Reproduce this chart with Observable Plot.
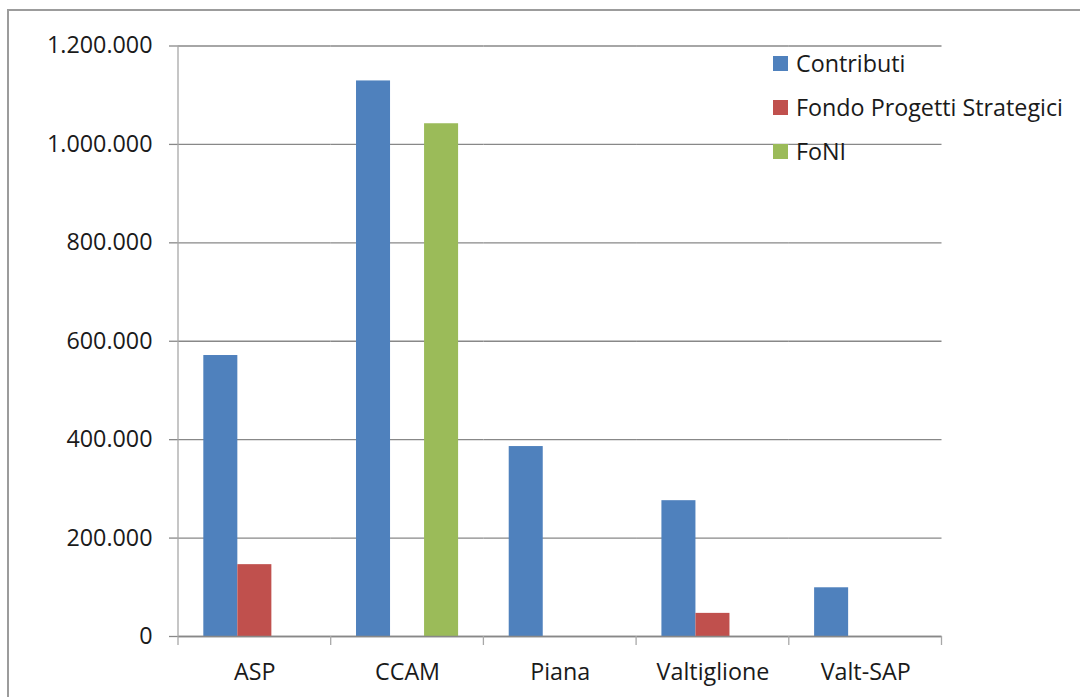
<!DOCTYPE html>
<html><head><meta charset="utf-8">
<script src="https://cdn.jsdelivr.net/npm/d3@7"></script>
<script src="https://cdn.jsdelivr.net/npm/@observablehq/plot@0.6"></script>
<style>
body{margin:0;background:#fff;overflow:hidden;}
#wrap{position:relative;width:1080px;height:697px;font-family:"Open Sans",sans-serif;overflow:hidden;}
#chart{position:absolute;left:0;top:0;}
#border{position:absolute;left:7px;top:9px;width:1300px;height:1000px;border:2px solid #9c9c9c;box-sizing:border-box;}
#legend{position:absolute;left:773px;top:0;}
.item{position:absolute;left:0;height:30px;display:flex;align-items:center;white-space:nowrap;font-size:23.3px;color:#1a1a1a;}
.sw{width:15px;height:15px;margin-right:8px;flex:none;}
</style></head><body>
<div id="wrap"><div id="border"></div><div id="chart"></div><div id="legend"></div></div>
<script>
// ---- data ----
const categories = ["ASP", "CCAM", "Piana", "Valtiglione", "Valt-SAP"];
const seriesNames = ["Contributi", "Fondo Progetti Strategici", "FoNI"];
const contributi = [571000, 1129000, 386000, 276000, 99000];
const fondoProgetti = [146000, 0, 0, 47000, 0];
const foni = [0, 1042000, 0, 0, 0];
const yTicks = [0, 200000, 400000, 600000, 800000, 1000000, 1200000];
const colors = ["#4F81BD", "#C0504D", "#9BBB59"];

const seriesValues = [contributi, fondoProgetti, foni];
const data = [];
categories.forEach((c, i) => {
  seriesNames.forEach((s, j) => {
    const v = seriesValues[j][i];
    if (v > 0) data.push({cat: c, series: s, value: v});
  });
});

const fmt = d3.formatLocale({decimal: ",", thousands: ".", grouping: [3], currency: ["€", ""]}).format(",d");
const gridColor = "#888888";

const chart = Plot.plot({
  width: 1080,
  height: 697,
  marginTop: 45.5,
  marginBottom: 61,
  marginLeft: 178,
  marginRight: 138.5,
  style: {fontFamily: "'Open Sans', sans-serif", fontSize: "23.3px", color: "#1a1a1a", background: "transparent"},
  fx: {domain: categories, padding: 0, round: false, label: null},
  x: {domain: seriesNames, paddingInner: 0, paddingOuter: 0.744, round: false, axis: null},
  y: {domain: [0, 1200000], label: null},
  color: {domain: seriesNames, range: colors},
  marks: [
    Plot.gridY(yTicks, {stroke: gridColor, strokeOpacity: 1, strokeWidth: 1.3}),
    Plot.barY(data, {fx: "cat", x: "series", y: "value", fill: "series"}),
    Plot.ruleY([0], {stroke: gridColor, strokeWidth: 1.3}),
    Plot.axisY(yTicks, {tickFormat: fmt, tickSize: 9, tickPadding: 17, stroke: gridColor, strokeWidth: 1.3, label: null}),
    Plot.axisFx({anchor: "bottom", tickSize: 0, tickPadding: 27, label: null})
  ]
});
document.getElementById("chart").appendChild(chart);

// axis line and category boundary ticks from the library's scales
const fx = chart.scale("fx");
const ys = chart.scale("y");
const svg = d3.select(chart);
const y0 = ys.apply(0);
const g = svg.append("g").attr("stroke", "#a8a8a8").attr("stroke-width", 1.3);
g.append("line")
  .attr("x1", fx.range[0]).attr("x2", fx.range[0])
  .attr("y1", ys.apply(1200000)).attr("y2", y0 + 9);
const bounds = categories.map(c => fx.apply(c)).concat([fx.apply(categories[categories.length - 1]) + fx.bandwidth]);
g.selectAll("line.b").data(bounds.slice(1)).join("line")
  .attr("class", "b")
  .attr("x1", d => d).attr("x2", d => d)
  .attr("y1", y0).attr("y2", y0 + 9);

// legend
const legend = document.getElementById("legend");
const legendTops = [48, 92, 136];
seriesNames.forEach((s, j) => {
  const it = document.createElement("div");
  it.className = "item";
  it.style.top = legendTops[j] + "px";
  it.innerHTML = `<span class="sw" style="background:${colors[j]}"></span><span>${s}</span>`;
  legend.appendChild(it);
});
</script>
</body></html>
